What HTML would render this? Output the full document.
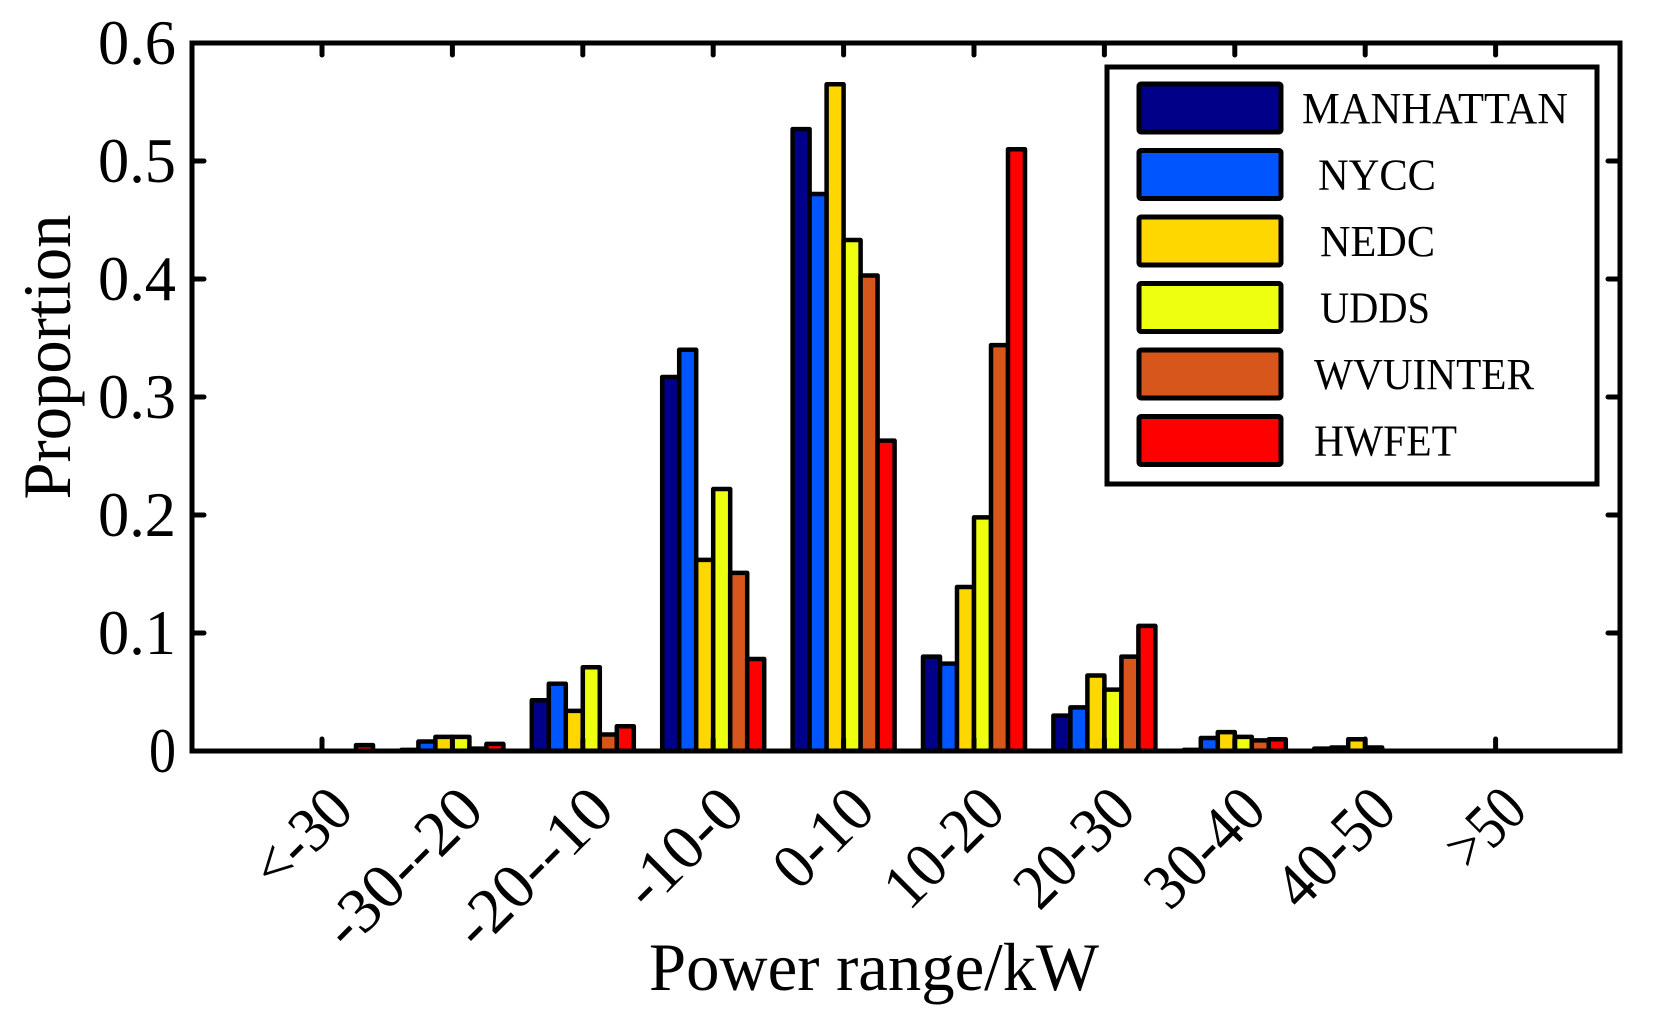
<!DOCTYPE html>
<html><head><meta charset="utf-8"><style>
html,body{margin:0;padding:0;background:#fff;}
svg{display:block;font-family:"Liberation Serif",serif;}
</style></head><body>
<svg width="1661" height="1023" viewBox="0 0 1661 1023" xmlns="http://www.w3.org/2000/svg">
<g id="bars" stroke="#000" stroke-width="4.5" stroke-linejoin="round"></g>
<g stroke="#000" stroke-width="5" fill="none" stroke-linecap="round">
<rect x="192" y="43" width="1428" height="708"/>
</g>
<g id="ticks" stroke="#000" stroke-width="5" stroke-linecap="round"></g>
<g id="ylab" font-size="64" text-anchor="end"></g>
<g id="xlab" font-size="64" text-anchor="end"></g>
<text x="874" y="990" font-size="68" text-anchor="middle" textLength="450" lengthAdjust="spacingAndGlyphs">Power range/kW</text>
<text transform="translate(70,357) rotate(-90)" font-size="68" text-anchor="middle" textLength="285" lengthAdjust="spacingAndGlyphs">Proportion</text>
<g id="legend"></g>
</svg>
<script>
const ns="http://www.w3.org/2000/svg";
function el(p,t,a,txt){const e=document.createElementNS(ns,t);for(const k in a)e.setAttribute(k,a[k]);if(txt!==undefined)e.textContent=txt;document.getElementById(p).appendChild(e);return e;}
const cols=["#000088","#0055ff","#ffd700","#eeff10","#d6561c","#ff0000"];
const names=["MANHATTAN","NYCC","NEDC","UDDS","WVUINTER","HWFET"];
const data=[
[0,0,0,0,0,0.005],
[0.001,0.008,0.012,0.012,0.002,0.006],
[0.043,0.057,0.034,0.071,0.014,0.021],
[0.317,0.340,0.162,0.222,0.151,0.078],
[0.527,0.472,0.565,0.433,0.403,0.263],
[0.080,0.074,0.139,0.198,0.344,0.510],
[0.030,0.037,0.064,0.052,0.080,0.106],
[0.001,0.011,0.016,0.012,0.009,0.010],
[0.002,0.003,0.010,0.003,0,0],
[0,0,0,0,0,0]];
const labs=["<-30","-30--20","-20--10","-10-0","0-10","10-20","20-30","30-40","40-50",">50"];
const y0=751,k=1180,bw=17,x0=322,dx=130.4;
data.forEach((g,i)=>{const c=x0+i*dx;g.forEach((v,j)=>{if(v<=0)return;const x=c+(j-3)*bw;const h=v*k;el("bars","rect",{x:x,y:y0-h,width:bw,height:h,fill:cols[j]});});
el("ticks","line",{x1:c,y1:y0,x2:c,y2:y0-12});el("ticks","line",{x1:c,y1:43,x2:c,y2:55});
el("xlab","text",{transform:`translate(${c+34},${y0+62}) rotate(-45)`,textLength:labs[i].length*28,lengthAdjust:"spacingAndGlyphs"},labs[i]);});
for(let i=0;i<=6;i++){const y=y0-i*0.1*k;const s=i==0?"0":(i/10).toFixed(1);el("ylab","text",{x:176,y:y+21,textLength:i==0?27:78,lengthAdjust:"spacingAndGlyphs"},s);
if(i>0&&i<6){el("ticks","line",{x1:192,y1:y,x2:204,y2:y});el("ticks","line",{x1:1608,y1:y,x2:1620,y2:y});}}
el("legend","rect",{x:1107,y:67,width:490,height:417,fill:"#fff",stroke:"#000","stroke-width":5});
const offs=[0,16,18,18,12,12];
const lens=[266,118,115,110,220,143];
names.forEach((n,j)=>{const cy=108+j*66.5;el("legend","rect",{x:1139,y:cy-24,width:142,height:48,fill:cols[j],stroke:"#000","stroke-width":5,rx:2});
el("legend","text",{x:1302+offs[j],y:cy+15,"font-size":44,textLength:lens[j],lengthAdjust:"spacingAndGlyphs"},n);});
</script>
</body></html>
